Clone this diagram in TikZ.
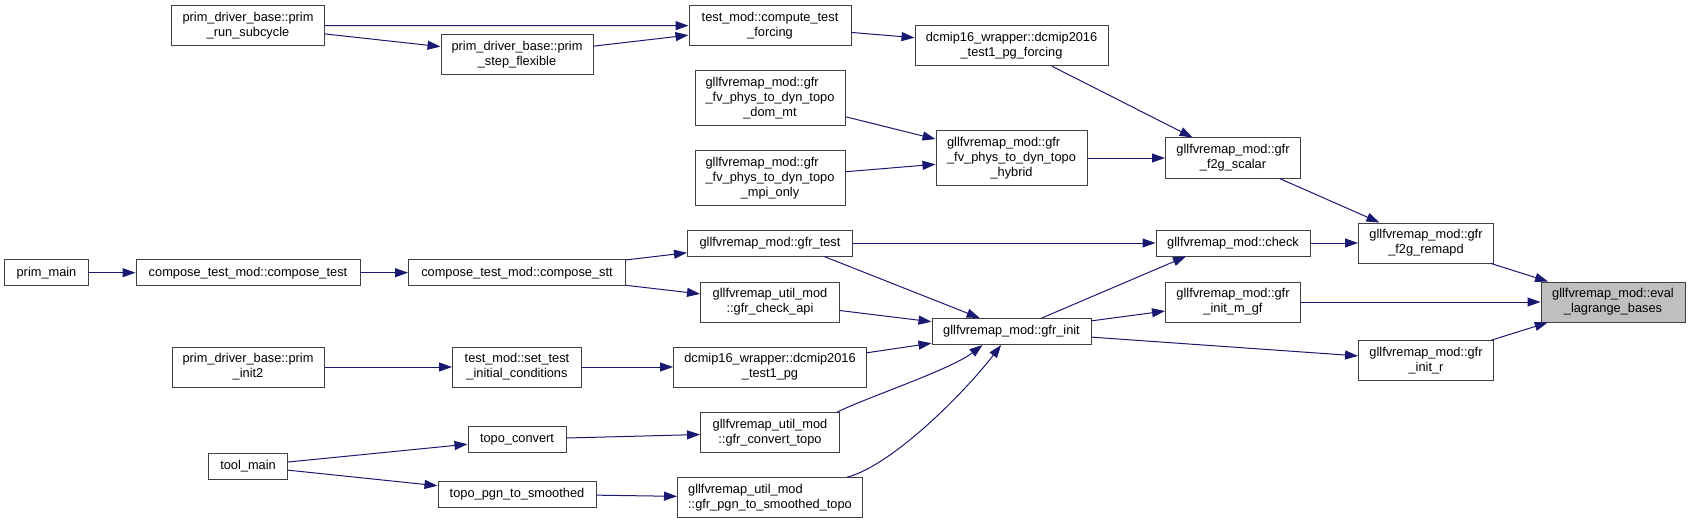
\documentclass[tikz,border=0pt]{standalone}
\usepackage{fontspec}
\setmainfont{Liberation Sans}
\usetikzlibrary{arrows.meta}
\definecolor{edgeblue}{HTML}{191970}
\definecolor{boxline}{HTML}{404040}
\definecolor{hlgray}{HTML}{BFBFBF}
% first line pushed to the left edge of the second one
\newcommand{\hangfirst}[2]{\setbox0\hbox{#2}\makebox[\wd0][l]{#1}\\#2}

\begin{document}
\begin{tikzpicture}[
  x=1pt, y=-1pt,
  fn/.style={draw=boxline, fill=white, line width=1pt, align=center, inner sep=0pt,
    font=\fontsize{12.8}{15}\selectfont},
  fnsel/.style={fn, fill=hlgray},
  call/.style={draw=edgeblue, line width=1pt, -{Triangle[length=13pt,width=9pt]}}
  ]
  \useasboundingbox (0,0) rectangle (1691,524);
  % rank 1
  \node[fn, minimum width=84pt, minimum height=26pt] (primmain) at (46.5,272.7) {prim\_main};
  % rank 2
  \node[fn, minimum width=153pt, minimum height=40pt] (runsub) at (248,25.5) {prim\_driver\_base::prim\\\_run\_subcycle};
  \node[fn, minimum width=224pt, minimum height=26pt] (ctest) at (248,272.7) {compose\_test\_mod::compose\_test};
  \node[fn, minimum width=152pt, minimum height=40pt] (init2) at (248,367) {prim\_driver\_base::prim\\\_init2};
  \node[fn, minimum width=79pt, minimum height=26pt] (toolmain) at (248,466) {tool\_main};
  % rank 3
  \node[fn, minimum width=152pt, minimum height=40pt] (stepflex) at (517,55) {prim\_driver\_base::prim\\\_step\_flexible};
  \node[fn, minimum width=217pt, minimum height=26pt] (cstt) at (517,272.7) {compose\_test\_mod::compose\_stt};
  \node[fn, minimum width=129pt, minimum height=40pt] (setic) at (517,367) {test\_mod::set\_test\\\_initial\_conditions};
  \node[fn, minimum width=98pt, minimum height=26pt] (topocvt) at (517,439.3) {topo\_convert};
  \node[fn, minimum width=158pt, minimum height=26pt] (pgnsm) at (517,494) {topo\_pgn\_to\_smoothed};
  % rank 4
  \node[fn, minimum width=162pt, minimum height=40pt] (ctf) at (770,25.7) {test\_mod::compute\_test\\\_forcing};
  \node[fn, minimum width=150pt, minimum height=55pt] (dommt) at (770,98) {\hangfirst{gllfvremap\_mod::gfr}{\_fv\_phys\_to\_dyn\_topo}\\\_dom\_mt};
  \node[fn, minimum width=150pt, minimum height=55pt] (mpionly) at (770,178) {\hangfirst{gllfvremap\_mod::gfr}{\_fv\_phys\_to\_dyn\_topo}\\\_mpi\_only};
  \node[fn, minimum width=165pt, minimum height=26pt] (gfrtest) at (770,243) {gllfvremap\_mod::gfr\_test};
  \node[fn, minimum width=139pt, minimum height=40pt] (chkapi) at (770,302) {gllfvremap\_util\_mod\\::gfr\_check\_api};
  \node[fn, minimum width=193pt, minimum height=40pt] (pg) at (770,367) {dcmip16\_wrapper::dcmip2016\\\_test1\_pg};
  \node[fn, minimum width=139pt, minimum height=40pt] (cvtopo) at (770,432.7) {gllfvremap\_util\_mod\\::gfr\_convert\_topo};
  \node[fn, minimum width=185pt, minimum height=40pt] (pgnsmtopo) at (770,497.7) {\hangfirst{gllfvremap\_util\_mod}{::gfr\_pgn\_to\_smoothed\_topo}};
  % rank 5
  \node[fn, minimum width=193pt, minimum height=40pt] (pgf) at (1011.5,45.7) {dcmip16\_wrapper::dcmip2016\\\_test1\_pg\_forcing};
  \node[fn, minimum width=151pt, minimum height=55pt] (hybrid) at (1011.5,158) {\hangfirst{gllfvremap\_mod::gfr}{\_fv\_phys\_to\_dyn\_topo}\\\_hybrid};
  \node[fn, minimum width=159pt, minimum height=26pt] (init) at (1011.5,331.5) {gllfvremap\_mod::gfr\_init};
  % rank 6
  \node[fn, minimum width=135pt, minimum height=40pt] (scalar) at (1233,158) {gllfvremap\_mod::gfr\\\_f2g\_scalar};
  \node[fn, minimum width=154pt, minimum height=26pt] (check) at (1233,243) {gllfvremap\_mod::check};
  \node[fn, minimum width=135pt, minimum height=40pt] (initmgf) at (1233,302) {gllfvremap\_mod::gfr\\\_init\_m\_gf};
  % rank 7
  \node[fn, minimum width=135pt, minimum height=40pt] (remapd) at (1426,243) {gllfvremap\_mod::gfr\\\_f2g\_remapd};
  \node[fn, minimum width=135pt, minimum height=40pt] (initr) at (1426,360.7) {gllfvremap\_mod::gfr\\\_init\_r};
  % rank 8
  \node[fnsel, minimum width=144pt, minimum height=40pt] (eval) at (1613,302) {gllfvremap\_mod::eval\\\_lagrange\_bases};

  % calls
  \draw[call] (runsub) -- (ctf);
  \draw[call] (runsub) -- (stepflex);
  \draw[call] (stepflex) -- (ctf);
  \draw[call] (ctf) -- (pgf);
  \draw[call] (pgf) -- (scalar);
  \draw[call] (dommt) -- (hybrid);
  \draw[call] (mpionly) -- (hybrid);
  \draw[call] (hybrid) -- (scalar);
  \draw[call] (scalar) -- (remapd);
  \draw[call] (gfrtest) -- (check);
  \draw[call] (check) -- (remapd);
  \draw[call] (remapd) -- (eval);
  \draw[call] (primmain) -- (ctest);
  \draw[call] (ctest) -- (cstt);
  \draw[call] (cstt) -- (gfrtest);
  \draw[call] (cstt) -- (chkapi);
  \draw[call] (gfrtest.-14) -- (init.157);
  \draw[call] (chkapi) -- (init);
  \draw[call] (init.24) -- (check.-164);
  \draw[call] (init) -- (initmgf);
  \draw[call] (init) -- (initr);
  \draw[call] (initmgf) -- (eval);
  \draw[call] (initr) -- (eval);
  \draw[call] (init2) -- (setic);
  \draw[call] (setic) -- (pg);
  \draw[call] (pg) -- (init);
  \draw[call] (cvtopo.17) .. controls (865,398) and (950,370) .. (init.-155);
  \draw[call] (pgnsmtopo) .. controls (893,465) and (965,392) .. (init);
  \draw[call] (toolmain) -- (topocvt);
  \draw[call] (toolmain) -- (pgnsm);
  \draw[call] (topocvt) -- (cvtopo);
  \draw[call] (pgnsm) -- (pgnsmtopo);
\end{tikzpicture}
\end{document}
